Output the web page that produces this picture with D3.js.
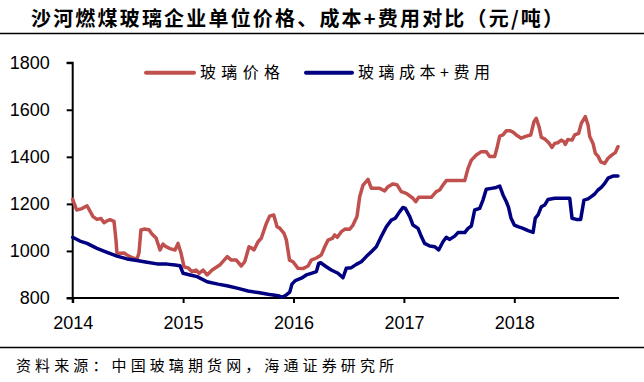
<!DOCTYPE html>
<html>
<head>
<meta charset="utf-8">
<script src="https://cdn.jsdelivr.net/npm/d3@7"></script>
<style>
  body { margin: 0; background: #fff; }
  svg { display: block; }
</style>
</head>
<body>
<svg id="chart" width="644" height="382"></svg>
<script>
// ---- Data (x as decimal year offset from 2014) ----
const title = "沙河燃煤玻璃企业单位价格、成本+费用对比（元/吨）";
const source = "资料来源：中国玻璃期货网，海通证券研究所";
const seriesNames = ["玻璃价格", "玻璃成本+费用"];
const yTicks = [800, 1000, 1200, 1400, 1600, 1800];
const xTicks = [2014, 2015, 2016, 2017, 2018];

const priceT = [0.000,0.036,0.084,0.130,0.184,0.220,0.256,0.284,0.311,0.338,0.374,0.392,0.401,0.428,0.465,0.501,0.546,0.582,0.600,0.618,0.646,0.691,0.718,0.755,0.791,0.818,0.845,0.881,0.927,0.954,0.981,1.008,1.045,1.081,1.117,1.145,1.181,1.217,1.263,1.332,1.400,1.437,1.482,1.527,1.558,1.597,1.624,1.642,1.679,1.708,1.754,1.784,1.821,1.851,1.875,1.914,1.935,1.964,1.995,2.041,2.086,2.132,2.161,2.207,2.252,2.283,2.313,2.351,2.373,2.397,2.433,2.469,2.509,2.539,2.575,2.600,2.630,2.675,2.705,2.781,2.826,2.856,2.901,2.940,2.976,3.022,3.082,3.107,3.134,3.248,3.293,3.324,3.354,3.384,3.551,3.581,3.611,3.656,3.701,3.746,3.777,3.822,3.846,3.868,3.898,3.928,3.958,3.988,4.018,4.063,4.109,4.149,4.178,4.199,4.224,4.245,4.281,4.312,4.342,4.366,4.396,4.426,4.450,4.462,4.486,4.523,4.547,4.583,4.607,4.643,4.668,4.683,4.713,4.734,4.758,4.783,4.819,4.849,4.885,4.915,4.939];
const priceV = [1219,1174,1180,1192,1146,1134,1138,1120,1128,1133,1126,1046,991,990,991,980,970,965,991,1089,1093,1090,1072,1055,1004,1029,1018,1010,1004,1032,991,933,928,912,919,905,919,898,919,940,976,961,961,936,954,1018,1011,1004,1039,1054,1117,1148,1153,1103,1097,1075,1047,961,954,926,925,936,961,970,983,1018,1046,1053,1068,1058,1082,1093,1092,1110,1146,1231,1280,1304,1266,1266,1255,1273,1285,1280,1252,1245,1224,1209,1228,1228,1252,1259,1280,1299,1299,1351,1386,1408,1422,1422,1401,1401,1443,1488,1493,1511,1511,1505,1493,1479,1488,1493,1549,1564,1528,1483,1474,1460,1440,1457,1460,1471,1464,1453,1474,1471,1493,1500,1542,1571,1535,1486,1457,1415,1403,1379,1372,1394,1408,1418,1443];

const costT = [0.000,0.066,0.130,0.220,0.311,0.401,0.492,0.582,0.673,0.764,0.854,0.927,0.972,1.000,1.063,1.127,1.217,1.316,1.407,1.498,1.588,1.679,1.769,1.861,1.899,1.935,1.966,1.986,2.016,2.071,2.116,2.161,2.207,2.228,2.246,2.297,2.342,2.403,2.448,2.478,2.524,2.569,2.614,2.659,2.705,2.750,2.795,2.841,2.886,2.922,2.962,2.992,3.013,3.053,3.082,3.128,3.158,3.188,3.234,3.279,3.315,3.354,3.384,3.415,3.460,3.490,3.551,3.581,3.611,3.641,3.687,3.716,3.746,3.792,3.837,3.868,3.898,3.928,3.948,3.970,4.000,4.034,4.079,4.125,4.170,4.190,4.215,4.245,4.275,4.306,4.366,4.502,4.523,4.562,4.601,4.631,4.668,4.697,4.728,4.758,4.788,4.819,4.849,4.894,4.939];
const costV = [1058,1042,1032,1011,994,978,966,959,952,945,944,940,937,905,898,891,869,859,851,841,830,823,816,810,803,813,825,859,874,884,898,905,912,947,950,933,919,905,886,926,929,943,954,976,997,1018,1061,1103,1131,1139,1167,1185,1181,1146,1110,1096,1061,1032,1021,1018,1004,1039,1058,1049,1063,1078,1078,1096,1106,1174,1181,1216,1262,1266,1270,1276,1238,1209,1185,1140,1110,1103,1096,1086,1079,1139,1153,1188,1195,1219,1224,1224,1139,1134,1134,1216,1221,1231,1242,1259,1270,1287,1309,1318,1318];

const colors = ["#C0504D", "#000080"];

// ---- Layout ----
const svg = d3.select("#chart");
const plotL = 72.7, plotR = 619, plotT = 62.7, plotB = 298;

const x = d3.scaleLinear().domain([2014, 2014 + (plotR - plotL) / 110.4]).range([plotL, plotR]);
const y = d3.scaleLinear().domain([800, 1800]).range([plotB, plotT]);

// Title
svg.append("text")
  .attr("x", 31).attr("y", 26)
  .attr("font-family", "'Noto Sans CJK SC', sans-serif")
  .attr("font-weight", "bold")
  .attr("font-size", 20)
  .attr("textLength", 532)
  .attr("lengthAdjust", "spacing")
  .attr("fill", "#000")
  .text(title);

svg.append("line").attr("x1", 0).attr("x2", 644).attr("y1", 33.5).attr("y2", 33.5)
  .attr("stroke", "#000").attr("stroke-width", 1.5);
svg.append("line").attr("x1", 0).attr("x2", 644).attr("y1", 347.5).attr("y2", 347.5)
  .attr("stroke", "#000").attr("stroke-width", 1.5);

// Source
svg.append("text")
  .attr("x", 16).attr("y", 371)
  .attr("font-family", "'Noto Sans CJK SC', sans-serif")
  .attr("font-size", 15)
  .attr("textLength", 378)
  .attr("lengthAdjust", "spacing")
  .attr("fill", "#000")
  .text(source);

// Axes
const yAxis = d3.axisLeft(y).tickValues(yTicks).tickSize(6).tickPadding(17).tickFormat(d3.format("d"));
const gy = svg.append("g").attr("transform", `translate(${plotL},0)`).call(yAxis);
const xAxis = d3.axisBottom(x).tickValues(xTicks).tickSize(5).tickPadding(13).tickFormat(d3.format("d"));
const gx = svg.append("g").attr("transform", `translate(0,${plotB})`).call(xAxis);

[gx, gy].forEach(g => {
  g.select(".domain").attr("stroke", "#000").attr("stroke-width", 2);
  g.selectAll(".tick line").attr("stroke", "#000").attr("stroke-width", 2);
  g.selectAll(".tick text")
    .attr("font-family", "'Liberation Sans', Arial, sans-serif")
    .attr("font-size", 18)
    .attr("fill", "#000");
});
gy.select(".domain").attr("d", `M-6,${plotT}H0V${plotB}H-6`);
gx.select(".domain").attr("d", `M${plotL},5V0H${plotR}`);

// Lines
const line = d3.line().x(d => x(2014 + d[0])).y(d => y(d[1]));
const priceData = priceT.map((t, i) => [t, priceV[i]]);
const costData = costT.map((t, i) => [t, costV[i]]);

svg.append("path").datum(priceData).attr("d", line)
  .attr("fill", "none").attr("stroke", colors[0]).attr("stroke-width", 3.5)
  .attr("stroke-linejoin", "round").attr("stroke-linecap", "round");
svg.append("path").datum(costData).attr("d", line)
  .attr("fill", "none").attr("stroke", colors[1]).attr("stroke-width", 3.5)
  .attr("stroke-linejoin", "round").attr("stroke-linecap", "round");

// Legend
const legendItems = [
  { x1: 146, x2: 194, tx: 200, len: 80 },
  { x1: 306, x2: 352, tx: 358, len: 132 }
];
legendItems.forEach((it, i) => {
  svg.append("line").attr("x1", it.x1).attr("x2", it.x2).attr("y1", 72.7).attr("y2", 72.7)
    .attr("stroke", colors[i]).attr("stroke-width", 4).attr("stroke-linecap", "round");
  svg.append("text").attr("x", it.tx).attr("y", 78)
    .attr("font-family", "'Noto Sans CJK SC', sans-serif")
    .attr("font-size", 16)
    .attr("textLength", it.len).attr("lengthAdjust", "spacing")
    .attr("fill", "#000")
    .text(seriesNames[i]);
});
</script>
</body>
</html>
